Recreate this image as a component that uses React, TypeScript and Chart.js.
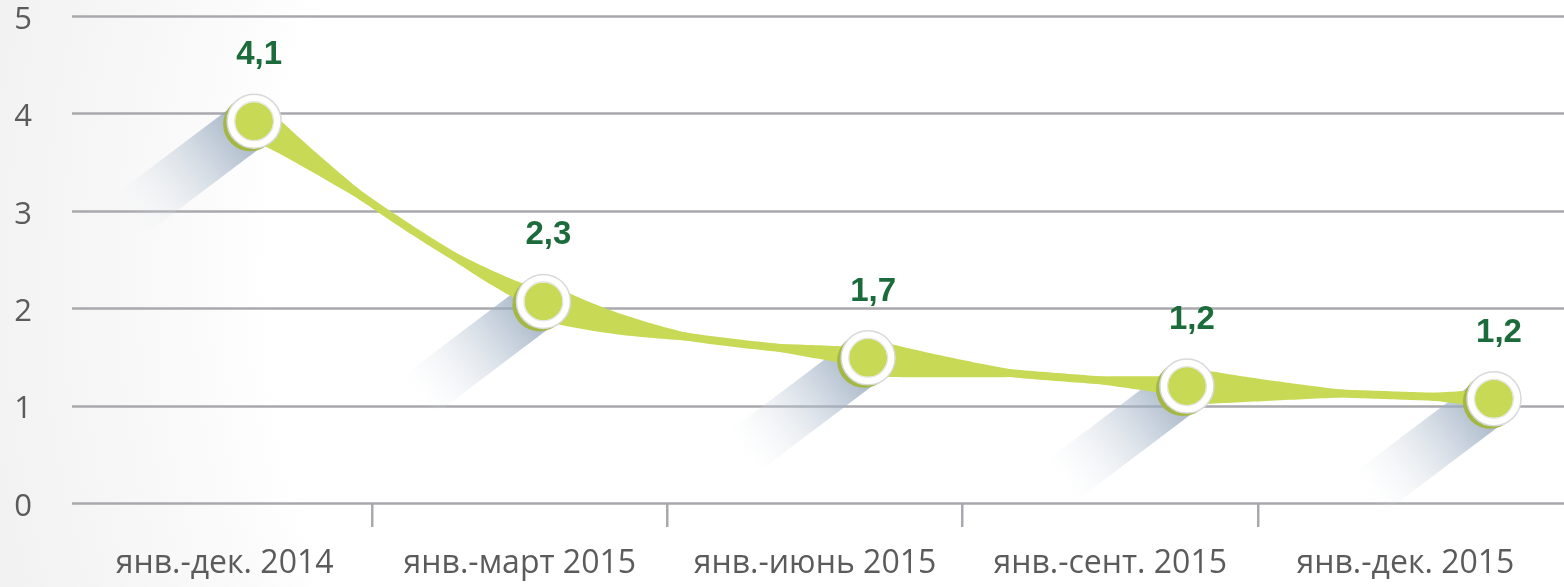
import React, { useEffect, useRef } from "react";
import { Chart, registerables } from "chart.js";
Chart.register(...registerables);

const categories = ["янв.-дек. 2014", "янв.-март 2015", "янв.-июнь 2015", "янв.-сент. 2015", "янв.-дек. 2015"];
const values = [3.92, 2.07, 1.49, 1.2, 1.07];
const xPositions = [0.1, 1.08, 2.18, 3.26, 4.3];
const valueLabels = ["4,1", "2,3", "1,7", "1,2", "1,2"];
const yTicks = [0, 1, 2, 3, 4, 5];

const GREEN = "#c8da55";
const DARK_GREEN = "#a2b843";
const GRID = "#a9a9ad";
const TEXT = "#5b5b5b";
const LABEL_GREEN = "#1b6b3b";

const decorPlugin = {
  id: "decor",
  beforeDraw(chart: any) {
    const { ctx, width, height } = chart;
    ctx.save();
    ctx.fillStyle = "#f2f2f2";
    ctx.fillRect(0, 0, width, height);
    const g = ctx.createRadialGradient(1100, 280, 0, 1100, 280, 1120);
    g.addColorStop(0, "#ffffff");
    g.addColorStop(0.74, "#ffffff");
    g.addColorStop(0.8, "#fbfbfb");
    g.addColorStop(1, "#f2f2f2");
    ctx.fillStyle = g;
    ctx.fillRect(0, 0, width, height);
    ctx.restore();
  },
  beforeDatasetsDraw(chart: any) {
    const { ctx, width } = chart;
    const y = chart.scales.y;
    ctx.save();
    // grid lines
    ctx.strokeStyle = GRID;
    ctx.lineWidth = 2.5;
    yTicks.forEach((v) => {
      const py = Math.round(y.getPixelForValue(v)) + 0.5;
      ctx.beginPath();
      ctx.moveTo(72, py);
      ctx.lineTo(width, py);
      ctx.stroke();
    });
    const meta = chart.getDatasetMeta(0);
    const pts = meta.data.map((p: any) => ({ x: p.x, y: p.y }));
    // shadows
    const a = (37 * Math.PI) / 180;
    const u = { x: -Math.cos(a), y: Math.sin(a) };
    const n = { x: Math.sin(a), y: Math.cos(a) };
    const W = 25, L = 160;
    pts.forEach((p: any) => {
      const g = ctx.createLinearGradient(p.x, p.y, p.x + u.x * L, p.y + u.y * L);
      g.addColorStop(0, "rgba(140,158,182,0.85)");
      g.addColorStop(0.35, "rgba(165,181,200,0.55)");
      g.addColorStop(1, "rgba(235,239,243,0)");
      ctx.fillStyle = g;
      ctx.beginPath();
      ctx.moveTo(p.x + n.x * W, p.y + n.y * W);
      ctx.lineTo(p.x - n.x * W, p.y - n.y * W);
      ctx.lineTo(p.x - n.x * W + u.x * L, p.y - n.y * W + u.y * L);
      ctx.lineTo(p.x + n.x * W + u.x * L, p.y + n.y * W + u.y * L);
      ctx.closePath();
      ctx.fill();
    });
    // ribbon
    const N = pts.length;
    const tan = pts.map((p: any, i: number) => {
      const prev = pts[Math.max(i - 1, 0)];
      const next = pts[Math.min(i + 1, N - 1)];
      return { x: (next.x - prev.x) / 2, y: (next.y - prev.y) / 2 };
    });
    const H0 = 19, H1 = 10;
    for (let i = 0; i < N - 1; i++) {
      const p0 = pts[i], p3 = pts[i + 1];
      const c1 = { x: p0.x + tan[i].x / 3, y: p0.y + tan[i].y / 3 };
      const c2 = { x: p3.x - tan[i + 1].x / 3, y: p3.y - tan[i + 1].y / 3 };
      const S = 80;
      const A: any[] = [], B: any[] = [], C: any[] = [];
      for (let k = 0; k <= S; k++) {
        const t = k / S, mt = 1 - t;
        const x = mt * mt * mt * p0.x + 3 * mt * mt * t * c1.x + 3 * mt * t * t * c2.x + t * t * t * p3.x;
        const yy = mt * mt * mt * p0.y + 3 * mt * mt * t * c1.y + 3 * mt * t * t * c2.y + t * t * t * p3.y;
        const dx = 3 * mt * mt * (c1.x - p0.x) + 6 * mt * t * (c2.x - c1.x) + 3 * t * t * (p3.x - c2.x);
        const dy = 3 * mt * mt * (c1.y - p0.y) + 6 * mt * t * (c2.y - c1.y) + 3 * t * t * (p3.y - c2.y);
        const len = Math.hypot(dx, dy) || 1;
        const nx = -dy / len, ny = dx / len;
        const s = H0 * mt * mt - H1 * t * t;
        C.push({ x, y: yy });
        A.push({ x: x + nx * s, y: yy + ny * s });
        B.push({ x: x - nx * s, y: yy - ny * s });
      }
      ctx.fillStyle = GREEN;
      ctx.beginPath();
      A.forEach((q, k) => (k ? ctx.lineTo(q.x, q.y) : ctx.moveTo(q.x, q.y)));
      for (let k = B.length - 1; k >= 0; k--) ctx.lineTo(B[k].x, B[k].y);
      ctx.closePath();
      ctx.fill();
      ctx.strokeStyle = GREEN;
      ctx.lineWidth = 8;
      ctx.lineCap = "round";
      ctx.beginPath();
      C.forEach((q, k) => (k ? ctx.lineTo(q.x, q.y) : ctx.moveTo(q.x, q.y)));
      ctx.stroke();
    }
    // dark rim behind points
    pts.forEach((p: any) => {
      ctx.fillStyle = DARK_GREEN;
      ctx.beginPath();
      ctx.arc(p.x - 4, p.y + 3, 27, 0, Math.PI * 2);
      ctx.fill();
    });
    ctx.restore();
  },
  afterDatasetsDraw(chart: any) {
    const { ctx } = chart;
    const meta = chart.getDatasetMeta(0);
    ctx.save();
    meta.data.forEach((p: any, i: number) => {
      ctx.strokeStyle = "#d9d9d9";
      ctx.lineWidth = 1.5;
      ctx.beginPath();
      ctx.arc(p.x, p.y, 27, 0, Math.PI * 2);
      ctx.stroke();
      ctx.strokeStyle = "#e4e4e4";
      ctx.lineWidth = 1.2;
      ctx.beginPath();
      ctx.arc(p.x, p.y, 19.5, 0, Math.PI * 2);
      ctx.stroke();
      ctx.fillStyle = LABEL_GREEN;
      ctx.font = "bold 33px 'Liberation Sans', Arial, sans-serif";
      ctx.textAlign = "center";
      ctx.textBaseline = "middle";
      ctx.fillText(valueLabels[i], p.x + 5, p.y - 66);
    });
    ctx.restore();
  },
};

export default function App() {
  const ref = useRef<HTMLCanvasElement>(null);
  useEffect(() => {
    if (!ref.current) return;
    const chart = new Chart(ref.current, {
      type: "scatter",
      data: {
        datasets: [
          {
            data: values.map((v, i) => ({ x: xPositions[i], y: v })),
            showLine: false,
            pointRadius: 23,
            pointHoverRadius: 23,
            pointBorderWidth: 8,
            pointHoverBorderWidth: 8,
            pointBorderColor: "#ffffff",
            pointBackgroundColor: GREEN,
            xAxisID: "x",
            yAxisID: "y",
          },
        ],
      },
      options: {
        animation: false,
        responsive: true,
        maintainAspectRatio: false,
        layout: { autoPadding: false, padding: { top: 16, right: 11, left: 0, bottom: 0 } },
        plugins: { legend: { display: false }, tooltip: { enabled: false } },
        scales: {
          x: { type: "linear", min: -0.5, max: 4.5, display: false },
          xCat: {
            type: "category",
            labels: categories,
            position: "bottom",
            offset: true,
            grid: {
              display: true,
              offset: true,
              drawOnChartArea: false,
              drawTicks: true,
              tickLength: 24,
              lineWidth: 2.5,
              color: (c: any) => (c.type === "tick" && c.index > 0 ? GRID : "rgba(0,0,0,0)"),
            },
            border: { display: false },
            ticks: {
              font: { family: "'Open Sans', sans-serif", size: 32 },
              color: TEXT,
              padding: 18,
              maxRotation: 0,
              autoSkip: false,
            },
            afterFit: (s: any) => {
              s.height = 84;
              s.paddingLeft = 0;
              s.paddingRight = 0;
            },
          },
          y: {
            type: "linear",
            min: 0,
            max: 5,
            ticks: {
              stepSize: 1,
              font: { family: "'Open Sans', sans-serif", size: 31 },
              color: TEXT,
              padding: 37,
              labelOffset: 4,
            },
            grid: { display: false },
            border: { display: false },
            afterFit: (s: any) => {
              s.width = 77;
              s.paddingTop = 0;
              s.paddingBottom = 0;
            },
          },
        },
      },
      plugins: [decorPlugin],
    } as any);
    return () => chart.destroy();
  }, []);
  return (
    <div style={{ position: "fixed", left: 0, top: 0, width: 1564, height: 587 }}>
      <canvas ref={ref} />
    </div>
  );
}
